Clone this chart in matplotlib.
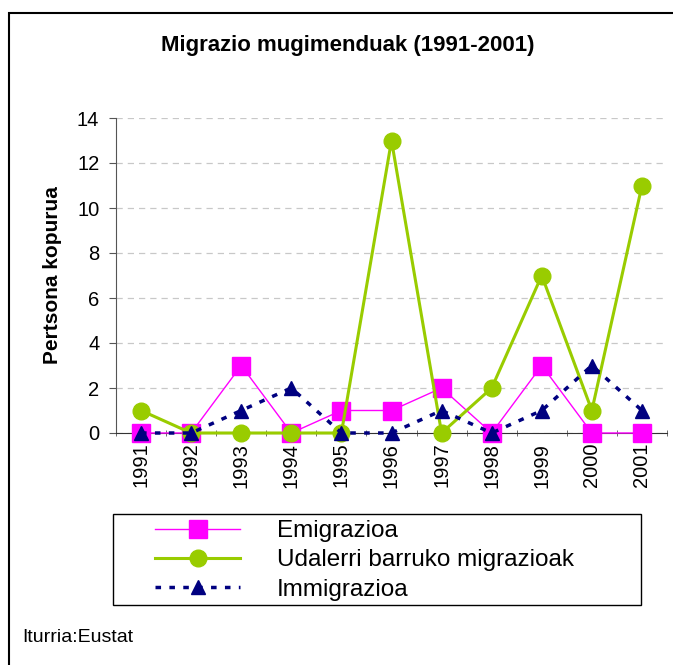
import matplotlib.pyplot as plt
from matplotlib.patches import Rectangle

plt.rcParams['font.family'] = ['Liberation Sans', 'DejaVu Sans']

years = ['1991', '1992', '1993', '1994', '1995', '1996', '1997', '1998', '1999', '2000', '2001']
emigrazioa = [0, 0, 3, 0, 1, 1, 2, 0, 3, 0, 0]
udalerri = [1, 0, 0, 0, 0, 13, 0, 2, 7, 1, 11]
immigrazioa = [0, 0, 1, 2, 0, 0, 1, 0, 1, 3, 1]

W, H = 673, 665
fig = plt.figure(figsize=(W / 100, H / 100), dpi=100)

# outer frame (right and bottom edges run off the picture)
fig.patches.append(Rectangle((9 / W, -0.05), 1.2, 1 - 13 / H + 0.05, transform=fig.transFigure,
                             fill=False, edgecolor='black', linewidth=1.5))
# legend box
fig.patches.append(Rectangle((113 / W, 1 - 605 / H), 528 / W, 91 / H, transform=fig.transFigure,
                             fill=False, edgecolor='black', linewidth=1))

ax = fig.add_axes([116 / W, 1 - 433 / H, 551 / W, 315 / H])
x = list(range(len(years)))

ax.plot(x, emigrazioa, color='#ff00ff', linewidth=1, marker='s', markersize=13,
        markeredgecolor='#ff00ff', label='Emigrazioa', clip_on=False, zorder=3)
ax.plot(x, udalerri, color='#99cc00', linewidth=2.2, marker='o', markersize=12,
        markeredgecolor='#99cc00', label='Udalerri barruko migrazioak', clip_on=False, zorder=4)
ax.plot(x, immigrazioa, color='#000080', linewidth=2.5, linestyle=(0, (1.6, 2.4)), marker='^',
        markersize=10, markeredgecolor='#000080', label='Immigrazioa', clip_on=False, zorder=5)

ax.set_xlim(-0.5, len(years) - 0.5)
ax.set_ylim(0, 14)
ax.set_yticks(range(0, 15, 2))
ax.set_xticks(x)
ax.set_xticklabels(years, rotation=90, fontsize=14.5)
ax.set_xticks([i - 0.5 for i in range(len(years) + 1)], minor=True)
ax.tick_params(axis='x', which='major', length=0, pad=7)
ax.tick_params(axis='x', which='minor', length=5, direction='inout', color='#555555')
ax.tick_params(axis='y', labelsize=14.5, length=5, direction='out', color='#555555', pad=7)

ax.yaxis.grid(True, color='#c8c8c8', linestyle=(0, (5, 4)), linewidth=0.9)
ax.set_axisbelow(True)
for s in ['top', 'right']:
    ax.spines[s].set_visible(False)
ax.spines['left'].set_color('#555555')
ax.spines['bottom'].set_color('#333333')

ax.set_ylabel('Pertsona kopurua', fontsize=15, fontweight='bold', labelpad=11)

fig.text(348 / W, 1 - 46 / H, 'Migrazio mugimenduak (1991-2001)', ha='center', va='center',
         fontsize=16, fontweight='bold')

leg = fig.legend(loc='upper left', bbox_to_anchor=(155 / W, 1 - 520 / H),
                 fontsize=17.5, frameon=False, borderpad=0, labelspacing=0.3,
                 handlelength=3.5, handletextpad=1.5, borderaxespad=0)

fig.text(22 / W, 1 - 638 / H, 'Iturria:Eustat', ha='left', va='center', fontsize=14)

fig.savefig('out.png', dpi=100)
